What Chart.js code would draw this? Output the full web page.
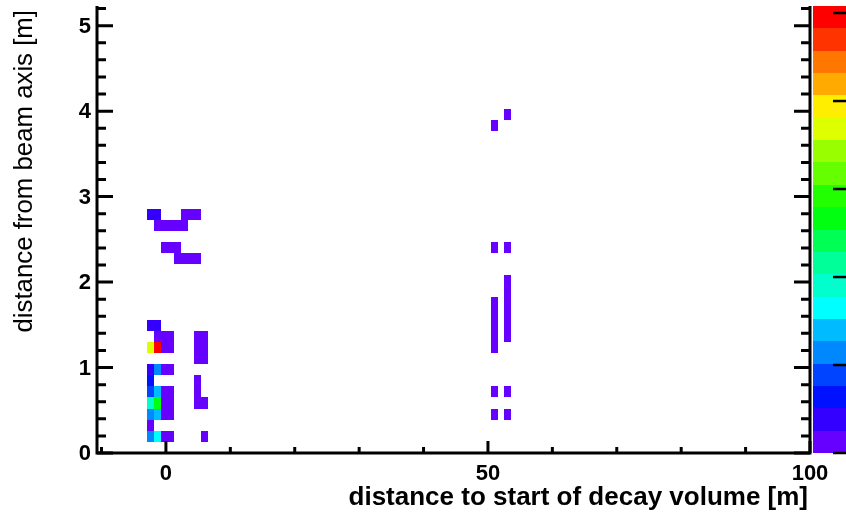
<!DOCTYPE html>
<html>
<head>
<meta charset="utf-8">
<script src="https://cdn.jsdelivr.net/npm/chart.js@4.4.1/dist/chart.umd.min.js"></script>
<style>
  html, body { margin: 0; padding: 0; background: #fff; }
  #wrap { width: 846px; height: 517px; }
</style>
</head>
<body>
<div id="wrap"><canvas id="c" width="846" height="517"></canvas></div>
<script>
// bin centres [m] and bin contents
const cellX = [
  // y = 2.795
  -2.38, -1.33, 2.85, 3.90, 4.94,
  // y = 2.665
  -1.33, -0.28, 0.76, 1.81, 2.85,
  // y = 2.405
  -0.28, 0.76, 1.81, 50.97, 53.06,
  // y = 2.275
  1.81, 2.85, 3.90, 4.94,
  // y = 1.495
  -2.38, -1.33, 50.97, 53.06,
  // y = 1.365
  -1.33, -0.28, 0.76, 4.94, 5.99, 50.97, 53.06,
  // y = 1.235
  -2.38, -1.33, -0.28, 0.76, 4.94, 5.99, 50.97,
  // y = 1.105
  4.94, 5.99,
  // y = 0.975
  -2.38, -1.33, -0.28, 0.76,
  // y = 0.845
  -2.38, 4.94,
  // y = 0.715
  -2.38, -1.33, -0.28, 0.76, 4.94, 50.97, 53.06,
  // y = 0.585
  -2.38, -1.33, -0.28, 0.76, 4.94, 5.99,
  // y = 0.455
  -2.38, -1.33, -0.28, 0.76, 50.97, 53.06,
  // y = 0.325
  -2.38,
  // y = 0.195
  -2.38, -1.33, -0.28, 0.76, 5.99,
  // upper cells near 50 m
  50.97, 53.06, 50.97, 50.97, 53.06, 53.06, 53.06, 53.06
];
const cellY = [
  2.795, 2.795, 2.795, 2.795, 2.795,
  2.665, 2.665, 2.665, 2.665, 2.665,
  2.405, 2.405, 2.405, 2.405, 2.405,
  2.275, 2.275, 2.275, 2.275,
  1.495, 1.495, 1.495, 1.495,
  1.365, 1.365, 1.365, 1.365, 1.365, 1.365, 1.365,
  1.235, 1.235, 1.235, 1.235, 1.235, 1.235, 1.235,
  1.105, 1.105,
  0.975, 0.975, 0.975, 0.975,
  0.845, 0.845,
  0.715, 0.715, 0.715, 0.715, 0.715, 0.715, 0.715,
  0.585, 0.585, 0.585, 0.585, 0.585, 0.585,
  0.455, 0.455, 0.455, 0.455, 0.455, 0.455,
  0.325,
  0.195, 0.195, 0.195, 0.195, 0.195,
  3.835, 3.965, 1.755, 1.625, 2.015, 1.885, 1.755, 1.625
];
const cellZ = [
  2, 2, 1, 1, 1,
  1, 1, 1, 1, 1,
  1, 1, 1, 1, 1,
  1, 1, 1, 1,
  2, 2, 1, 1,
  1, 1, 1, 1, 1, 1, 1,
  18, 25, 1, 1, 1, 1, 1,
  1, 1,
  2, 6, 1, 1,
  3, 1,
  5, 7, 1, 1, 1, 1, 1,
  10, 13, 1, 1, 1, 1,
  6, 7, 1, 1, 1, 1,
  1,
  6, 8, 1, 1, 1,
  1, 1, 1, 1, 1, 1, 1, 1
];

const xTickLabels = [0, 50, 100];
const zTicks = [0, 5, 10, 15, 20, 25];

// histogram binning and ranges
const binW = 1.046;
const binH = 0.13;
const xMin = -10.7, xMax = 100;
const yMin = 0, yMax = 5.23;
const zMax = 25.4;

// ROOT-like rainbow palette, 20 contours, low -> high
const palette = [
  '#6600ff', '#3300ff', '#0011ff', '#0044ff', '#0088ff',
  '#00bbff', '#00ffff', '#00ffcc', '#00ff99', '#00ff55',
  '#00ff11', '#22ff00', '#66ff00', '#99ff00', '#ddff00',
  '#ffee00', '#ffaa00', '#ff7700', '#ff3300', '#ff0000'
];

function colourFor(v) {
  let k = Math.floor(v / zMax * palette.length);
  k = Math.max(0, Math.min(palette.length - 1, k));
  return palette[k];
}

const points = cellX.map((x, i) => ({ x: x, y: cellY[i], v: cellZ[i] }));

const labelFont = { family: 'Liberation Sans', size: 22, weight: 'bold' };

const histPlugin = {
  id: 'hist2d',
  beforeDatasetsDraw(chart) {
    const { ctx } = chart;
    const x = chart.scales.x, y = chart.scales.y;
    ctx.save();
    chart.data.datasets[0].data.forEach(p => {
      const x0 = Math.round(x.getPixelForValue(p.x - binW / 2));
      const x1 = Math.round(x.getPixelForValue(p.x + binW / 2));
      const y0 = Math.round(y.getPixelForValue(p.y + binH / 2));
      const y1 = Math.round(y.getPixelForValue(p.y - binH / 2));
      ctx.fillStyle = colourFor(p.v);
      ctx.fillRect(x0, y0, x1 - x0, y1 - y0);
    });
    ctx.restore();
  },
  afterDraw(chart) {
    const { ctx, chartArea: a } = chart;
    const x = chart.scales.x, y = chart.scales.y, z = chart.scales.z;
    ctx.save();

    // colour palette on the right
    const px0 = a.right + 3;
    for (let i = 0; i < palette.length; i++) {
      const top = Math.round(z.getPixelForValue((i + 1) * zMax / palette.length));
      const bot = Math.round(z.getPixelForValue(i * zMax / palette.length));
      ctx.fillStyle = palette[i];
      ctx.fillRect(px0, top, chart.width - px0, bot - top);
    }
    ctx.strokeStyle = '#000';
    ctx.lineWidth = 2.5;
    zTicks.forEach(t => {
      const py = z.getPixelForValue(t);
      ctx.beginPath();
      ctx.moveTo(chart.width - 13, py);
      ctx.lineTo(chart.width, py);
      ctx.stroke();
    });

    // frame lines
    ctx.lineWidth = 3;
    ctx.beginPath();
    ctx.moveTo(a.left, a.top);
    ctx.lineTo(a.left, a.bottom + 1.5);
    ctx.moveTo(a.left - 1.5, a.bottom);
    ctx.lineTo(a.right + 1.5, a.bottom);
    ctx.moveTo(a.right, a.top);
    ctx.lineTo(a.right, a.bottom);
    ctx.stroke();

    // inward tick marks
    y.ticks.forEach(t => {
      const py = y.getPixelForValue(t.value);
      const major = Math.abs(t.value - Math.round(t.value)) < 1e-6;
      const len = major ? 16 : 9;
      ctx.beginPath();
      ctx.moveTo(a.left, py);
      ctx.lineTo(a.left + len, py);
      ctx.moveTo(a.right, py);
      ctx.lineTo(a.right - len, py);
      ctx.stroke();
    });
    x.ticks.forEach(t => {
      const px = x.getPixelForValue(t.value);
      const len = xTickLabels.includes(t.value) ? 12 : 6;
      ctx.beginPath();
      ctx.moveTo(px, a.bottom);
      ctx.lineTo(px, a.bottom - len);
      ctx.stroke();
    });

    // axis titles
    ctx.fillStyle = '#000';
    ctx.textAlign = 'right';
    ctx.textBaseline = 'alphabetic';
    ctx.font = 'bold 26px "Liberation Sans"';
    ctx.fillText('distance to start of decay volume [m]', a.right - 2, 505);

    ctx.translate(32, a.top + 4);
    ctx.rotate(-Math.PI / 2);
    ctx.font = '25.8px "Liberation Sans"';
    ctx.fillText('distance from beam axis [m]', 0, 0);
    ctx.restore();
  }
};

new Chart(document.getElementById('c'), {
  type: 'scatter',
  data: {
    datasets: [{
      data: points,
      pointRadius: 0,
      pointHoverRadius: 0
    }]
  },
  options: {
    responsive: false,
    animation: false,
    devicePixelRatio: 1,
    events: [],
    layout: {
      autoPadding: false,
      padding: { top: 6, right: 36, left: 0, bottom: 0 }
    },
    plugins: {
      legend: { display: false },
      tooltip: { enabled: false }
    },
    scales: {
      x: {
        type: 'linear',
        min: xMin,
        max: xMax,
        grid: { display: false, drawTicks: false },
        border: { display: false },
        ticks: {
          stepSize: 10,
          includeBounds: false,
          autoSkip: false,
          maxRotation: 0,
          padding: 8,
          color: '#000',
          font: labelFont,
          callback: v => xTickLabels.includes(v) ? String(v) : ''
        },
        afterFit: s => { s.height = 64; s.paddingLeft = 0; s.paddingRight = 0; }
      },
      y: {
        type: 'linear',
        min: yMin,
        max: yMax,
        grid: { display: false, drawTicks: false },
        border: { display: false },
        ticks: {
          stepSize: 0.2,
          includeBounds: false,
          autoSkip: false,
          padding: 6,
          labelOffset: 1,
          color: '#000',
          font: labelFont,
          callback: v => Math.abs(v - Math.round(v)) < 1e-6 ? String(Math.round(v)) : ''
        },
        afterFit: s => { s.width = 97; s.paddingTop = 0; s.paddingBottom = 0; }
      },
      z: {
        type: 'linear',
        position: 'right',
        display: false,
        min: 0,
        max: zMax
      }
    }
  },
  plugins: [histPlugin]
});
</script>
</body>
</html>
